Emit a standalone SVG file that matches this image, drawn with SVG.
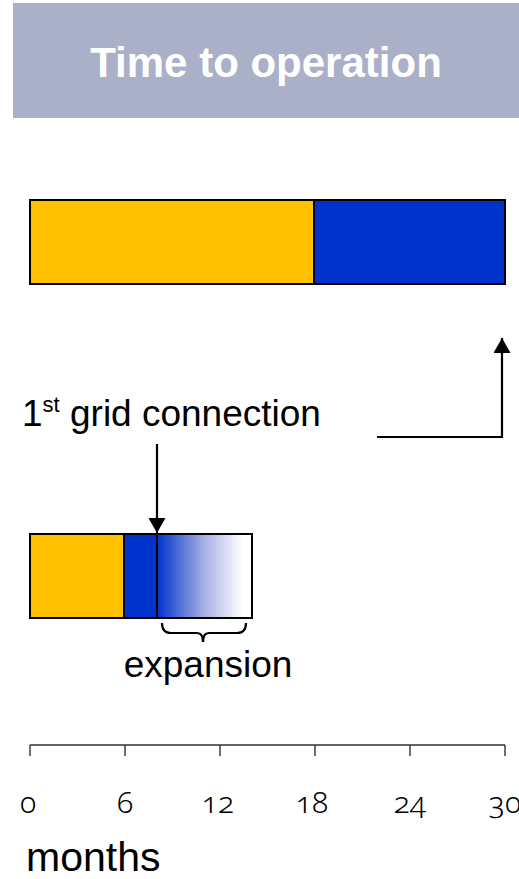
<svg xmlns="http://www.w3.org/2000/svg" width="519" height="879" viewBox="0 0 519 879">
  <style>
    .lbl { font-family: "Liberation Sans", Arial, sans-serif; fill: #000; }
    .num { font-family: "Noto Sans", "Open Sans", sans-serif; font-variant-numeric: oldstyle-nums; font-size: 30px; font-weight: 300; fill: #000; text-anchor: middle; }
    .bar { stroke: #000; stroke-width: 2; }
    .ln { stroke: #000; stroke-width: 2.2; fill: none; }
    .axis { stroke: #333; stroke-width: 1.4; fill: none; }
  </style>
  <defs>
    <linearGradient id="fade" x1="0" y1="0" x2="1" y2="0">
      <stop offset="0" stop-color="#0033cc"/>
      <stop offset="0.5" stop-color="#a9b0e3"/>
      <stop offset="0.9" stop-color="#ffffff"/>
      <stop offset="1" stop-color="#ffffff"/>
    </linearGradient>
    <marker id="tip" viewBox="0 0 15 17" refX="15" refY="8.5" markerWidth="15" markerHeight="17" orient="auto" markerUnits="userSpaceOnUse">
      <path d="M0,0 L15,8.5 L0,17 z" fill="#000"/>
    </marker>
  </defs>

  <g id="header">
    <rect x="13" y="3" width="506" height="115" fill="#aab0c8"/>
    <text x="266" y="77" font-family="Liberation Sans, Arial, sans-serif" font-weight="bold" font-size="42" fill="#fff" text-anchor="middle">Time to operation</text>
  </g>

  <g id="bar-full">
    <rect class="bar" x="30" y="200" width="284" height="84" fill="#ffc000"/>
    <rect class="bar" x="314" y="200" width="191" height="84" fill="#0033cc"/>
  </g>

  <g id="label-grid">
    <text class="lbl" x="22" y="426" font-size="37">1<tspan font-size="22" dy="-14">st</tspan><tspan dy="14"> grid connection</tspan></text>
  </g>

  <g id="bar-short">
    <rect class="bar" x="30" y="534" width="94" height="84" fill="#ffc000"/>
    <rect class="bar" x="124" y="534" width="33" height="84" fill="#0033cc"/>
    <rect class="bar" x="157" y="534" width="95" height="84" fill="url(#fade)"/>
  </g>

  <g id="expansion">
    <path class="ln" stroke-width="1.5" d="M162,623 Q162,633 171,633 L197,633 Q203,633 203,642 Q203,633 209,633 L237,633 Q246,633 246,623"/>
    <text class="lbl" x="208" y="677" font-size="37" text-anchor="middle">expansion</text>
  </g>

  <g id="connectors">
    <path class="ln" d="M377,437 L502,437 L502,338" marker-end="url(#tip)"/>
    <path class="ln" d="M157,444 L157,533" marker-end="url(#tip)"/>
  </g>

  <g id="axis">
    <path class="axis" d="M30,745 L505,745 M30,745 V756 M125,745 V756 M220,745 V756 M315,745 V756 M410,745 V756 M505,745 V756"/>
    <text class="num" x="28" y="813">0</text>
    <text class="num" x="125" y="813">6</text>
    <text class="num" x="218" y="813">12</text>
    <text class="num" x="312" y="813">18</text>
    <text class="num" x="410" y="813">24</text>
    <text class="num" x="505" y="813">30</text>
    <text class="lbl" x="26" y="871" font-size="41">months</text>
  </g>
</svg>
